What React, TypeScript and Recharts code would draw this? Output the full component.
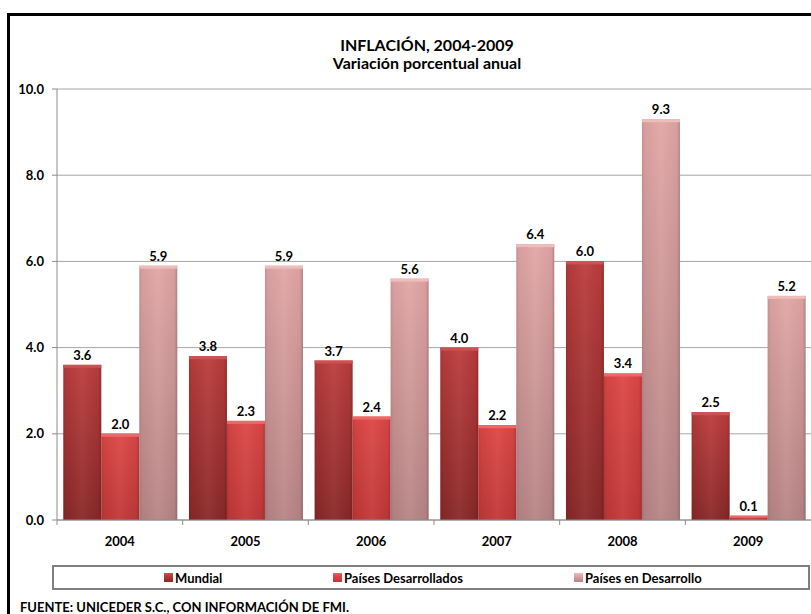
import { BarChart, Bar, XAxis, YAxis, CartesianGrid, LabelList } from 'recharts'

// inflation, % annual change
const years = ['2004', '2005', '2006', '2007', '2008', '2009']
const mundial = [3.6, 3.8, 3.7, 4.0, 6.0, 2.5]
const desarrollados = [2.0, 2.3, 2.4, 2.2, 3.4, 0.1]
const enDesarrollo = [5.9, 5.9, 5.6, 6.4, 9.3, 5.2]
const yTicks = [0, 2, 4, 6, 8, 10]

const series = [
  { key: 'mundial', name: 'Mundial', top: '#bb3d3d', bottom: '#8a2828', cap: '#cc5252' },
  { key: 'desarrollados', name: 'Países Desarrollados', top: '#dd4747', bottom: '#c03838', cap: '#ee6868' },
  { key: 'enDesarrollo', name: 'Países en Desarrollo', top: '#e2a6a6', bottom: '#b78585', cap: '#efbcbc' },
]

const data = years.map((year, i) => ({
  year,
  mundial: mundial[i],
  desarrollados: desarrollados[i],
  enDesarrollo: enDesarrollo[i],
}))

const W = 811
const H = 614
const PLOT_LEFT = 57
const PLOT_RIGHT = 811
const FONT = 'Lato, Carlito, "Open Sans", sans-serif'

const bevelBar = (s: (typeof series)[number]) => (props: any) => {
  const { x, y, width, height } = props
  if (!height || height <= 0) return null
  const cap = Math.min(3, height / 2)
  return (
    <g>
      <rect x={x} y={y} width={width} height={height} fill={`url(#body-${s.key})`} />
      <rect x={x} y={y} width={width} height={height} fill="url(#edgeShade)" />
      <rect x={x} y={y} width={width} height={cap} fill={s.cap} />
    </g>
  )
}

// category label plus a boundary tick on the left edge of each band
const YearTick = (props: any) => {
  const { x, y, payload } = props
  const band = (PLOT_RIGHT - PLOT_LEFT) / years.length
  const axisY = y - 17
  return (
    <g>
      <line x1={x - band / 2} x2={x - band / 2} y1={axisY} y2={axisY + 5} stroke="#8c8c8c" />
      <text x={x} y={y} dy="0.71em" textAnchor="middle" fontSize={13} fontWeight={700} fill="#000" fontFamily={FONT}>
        {payload.value}
      </text>
    </g>
  )
}

const legendX = [110, 279, 520]

export default function App() {
  return (
    <div style={{ position: 'absolute', left: 0, top: 0, width: W, height: H, overflow: 'hidden', background: '#fff', fontFamily: FONT }}>
      <div style={{ position: 'absolute', left: 7, top: 13, width: 820, height: 640, border: '3px solid #000', boxSizing: 'border-box' }} />

      <div style={{ position: 'absolute', left: 227, top: 36, width: 400, textAlign: 'center', fontWeight: 700, fontSize: 16, lineHeight: '18px', color: '#000' }}>
        <div>INFLACIÓN, 2004-2009</div>
        <div>Variación porcentual anual</div>
      </div>

      <div style={{ position: 'absolute', left: 0, top: 0 }}>
        <BarChart
          width={W}
          height={H}
          data={data}
          margin={{ top: 89, right: W - PLOT_RIGHT, left: 0, bottom: 64 }}
          barCategoryGap="5%"
          barGap={0}
        >
          <defs>
            {series.map((s) => (
              <linearGradient key={s.key} id={`body-${s.key}`} x1="0" y1="0" x2="0" y2="1">
                <stop offset="0%" stopColor={s.top} />
                <stop offset="100%" stopColor={s.bottom} />
              </linearGradient>
            ))}
            <linearGradient id="edgeShade" x1="0" y1="0" x2="1" y2="0">
              <stop offset="0%" stopColor="#000" stopOpacity={0.12} />
              <stop offset="8%" stopColor="#000" stopOpacity={0.04} />
              <stop offset="50%" stopColor="#fff" stopOpacity={0.05} />
              <stop offset="92%" stopColor="#000" stopOpacity={0.04} />
              <stop offset="100%" stopColor="#000" stopOpacity={0.2} />
            </linearGradient>
          </defs>
          <CartesianGrid horizontal vertical={false} stroke="#a6a6a6" strokeWidth={1} />
          <XAxis
            dataKey="year"
            height={30}
            stroke="#8c8c8c"
            tickLine={false}
            tickSize={5}
            tickMargin={12}
            tick={<YearTick />}
            interval={0}
          />
          <YAxis
            width={PLOT_LEFT}
            domain={[0, 10]}
            ticks={yTicks}
            stroke="#8c8c8c"
            tickSize={5}
            tickMargin={8}
            tickFormatter={(v: number) => v.toFixed(1)}
            tick={{ fontSize: 13, fontWeight: 700, fill: '#000', fontFamily: FONT }}
          />
          {series.map((s) => (
            <Bar key={s.key} dataKey={s.key} name={s.name} fill={s.top} shape={bevelBar(s)} isAnimationActive={false}>
              <LabelList
                dataKey={s.key}
                position="top"
                offset={5}
                formatter={(v: any) => Number(v).toFixed(1)}
                style={{ fontSize: 13, fontWeight: 700, fill: '#000', fontFamily: FONT }}
              />
            </Bar>
          ))}
        </BarChart>
      </div>

      <div style={{ position: 'absolute', left: 52, top: 565, width: 758, height: 25, border: '2px solid #7f7f7f', boxSizing: 'border-box' }}>
        {series.map((s, i) => (
          <div
            key={s.key}
            style={{ position: 'absolute', left: legendX[i], top: 0, height: 21, display: 'flex', alignItems: 'center', fontSize: 13, fontWeight: 700, color: '#000', whiteSpace: 'nowrap' }}
          >
            <span
              style={{ display: 'inline-block', width: 9, height: 9, marginRight: 2, background: `linear-gradient(${s.cap}, ${s.top} 30%, ${s.bottom})` }}
            />
            {s.name}
          </div>
        ))}
      </div>

      <div style={{ position: 'absolute', left: 20, top: 600, fontSize: 13, fontWeight: 700, color: '#000', whiteSpace: 'nowrap', lineHeight: '15px' }}>
        FUENTE: UNICEDER S.C., CON INFORMACIÓN DE FMI.
      </div>
    </div>
  )
}
